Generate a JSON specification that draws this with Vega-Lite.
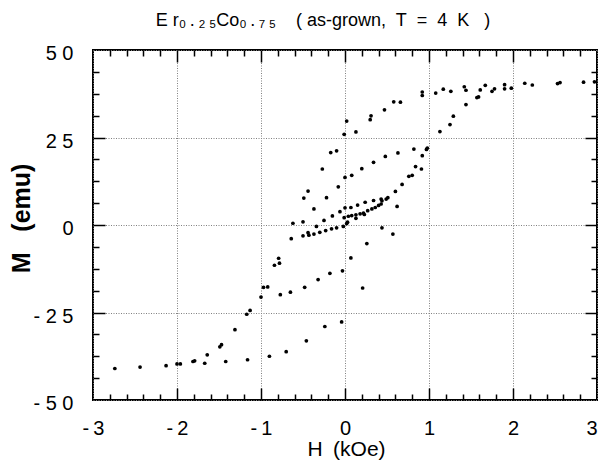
{
  "$schema": "https://vega.github.io/schema/vega-lite/v6.json",
  "width": 504,
  "height": 350,
  "autosize": {"type": "none"},
  "padding": {"left": 93, "top": 50, "right": 4, "bottom": 76},
  "config": {
    "view": {"stroke": "black", "strokeWidth": 2},
    "font": "Liberation Sans",
    "axis": {"labelFont": "Liberation Sans", "titleFont": "Liberation Sans", "labelColor": "black", "titleColor": "black", "tickColor": "black", "domain": false}
  },
  "title": {
    "text": "E r₀\u2009.\u2009₂\u2009₅Co₀\u2009.\u2009₇\u2009₅\u00a0\u00a0\u00a0 ( as-grown,\u00a0 T\u00a0 =\u00a0 4\u00a0 K\u00a0\u00a0 )",
    "fontSize": 18,
    "font": "Liberation Sans",
    "fontWeight": "normal",
    "color": "black",
    "anchor": "middle",
    "dx": -22,
    "baseline": "alphabetic",
    "offset": 0
  },
  "data": {
    "values": [
      {"H": 2.97, "M": 40.9}, {"H": 2.84, "M": 40.8}, {"H": 2.56, "M": 40.7}, {"H": 2.53, "M": 40.4},
      {"H": 2.23, "M": 40.0}, {"H": 2.14, "M": 40.5}, {"H": 1.98, "M": 39.1}, {"H": 1.90, "M": 40.1},
      {"H": 1.90, "M": 38.9}, {"H": 1.78, "M": 38.9}, {"H": 1.75, "M": 38.2}, {"H": 1.67, "M": 39.9},
      {"H": 1.61, "M": 38.6}, {"H": 1.59, "M": 36.6}, {"H": 1.57, "M": 36.4}, {"H": 1.44, "M": 38.5},
      {"H": 1.42, "M": 39.5}, {"H": 1.44, "M": 34.4}, {"H": 1.29, "M": 31.1}, {"H": 1.25, "M": 28.7},
      {"H": 1.13, "M": 26.7}, {"H": 1.26, "M": 38.2}, {"H": 1.17, "M": 38.8}, {"H": 1.08, "M": 37.7},
      {"H": 0.92, "M": 38.0}, {"H": 0.92, "M": 37.0}, {"H": 0.66, "M": 35.1}, {"H": 0.58, "M": 35.2},
      {"H": 0.47, "M": 32.9}, {"H": 0.31, "M": 31.2}, {"H": 0.30, "M": 30.1}, {"H": 0.13, "M": 26.6},
      {"H": 0.02, "M": 29.7}, {"H": -0.01, "M": 25.9},
      {"H": -0.10, "M": 21.2}, {"H": -0.17, "M": 20.7}, {"H": -0.27, "M": 16.0}, {"H": 0.00, "M": 13.6},
      {"H": 0.08, "M": 14.2}, {"H": 0.20, "M": 16.1}, {"H": 0.34, "M": 17.9}, {"H": 0.48, "M": 19.6},
      {"H": 0.63, "M": 20.6}, {"H": 0.82, "M": 21.7}, {"H": 0.97, "M": 21.6}, {"H": 0.98, "M": 22.0},
      {"H": 0.92, "M": 19.8}, {"H": 0.84, "M": 16.7}, {"H": 0.91, "M": 16.0}, {"H": 0.76, "M": 13.9},
      {"H": 0.80, "M": 14.2}, {"H": 0.68, "M": 11.6}, {"H": 0.60, "M": 9.6}, {"H": 0.62, "M": 5.3},
      {"H": -0.44, "M": 9.7}, {"H": -0.49, "M": 7.7}, {"H": -0.08, "M": 10.9}, {"H": -0.22, "M": 7.8},
      {"H": -0.37, "M": 4.6}, {"H": -0.15, "M": 2.6}, {"H": -0.25, "M": 1.3}, {"H": -0.06, "M": 3.8},
      {"H": 0.00, "M": 4.9}, {"H": 0.07, "M": 5.0}, {"H": 0.15, "M": 5.7}, {"H": 0.24, "M": 6.5},
      {"H": 0.34, "M": 7.0}, {"H": 0.43, "M": 7.4}, {"H": 0.44, "M": 6.9}, {"H": 0.49, "M": 7.4},
      {"H": 0.51, "M": 7.8},
      {"H": -0.62, "M": 0.5}, {"H": -0.50, "M": 0.9}, {"H": -0.34, "M": -0.4}, {"H": -0.01, "M": 2.1},
      {"H": 0.04, "M": 2.5}, {"H": 0.08, "M": 2.7}, {"H": 0.13, "M": 2.9}, {"H": 0.13, "M": 1.9},
      {"H": 0.18, "M": 3.2}, {"H": 0.22, "M": 3.4}, {"H": 0.23, "M": 3.0}, {"H": 0.27, "M": 4.1},
      {"H": 0.32, "M": 4.6}, {"H": 0.36, "M": 5.0}, {"H": 0.40, "M": 5.6}, {"H": 0.43, "M": 6.0},
      {"H": 0.02, "M": 0.4}, {"H": 0.03, "M": 0.8}, {"H": -0.02, "M": -0.4},
      {"H": -0.64, "M": -3.9}, {"H": -0.50, "M": -3.1}, {"H": -0.44, "M": -2.2}, {"H": -0.43, "M": -2.9},
      {"H": -0.37, "M": -2.6}, {"H": -0.30, "M": -2.1}, {"H": -0.23, "M": -1.6}, {"H": -0.16, "M": -1.1},
      {"H": -0.10, "M": -0.8},
      {"H": 0.44, "M": -0.8}, {"H": 0.57, "M": -2.6}, {"H": 0.26, "M": -5.3}, {"H": 0.07, "M": -9.4},
      {"H": -0.03, "M": -13.1}, {"H": -0.18, "M": -13.8}, {"H": -0.32, "M": -15.6}, {"H": 0.21, "M": -18.0},
      {"H": -0.04, "M": -27.7},
      {"H": -2.74, "M": -41.0}, {"H": -2.44, "M": -40.6}, {"H": -2.13, "M": -40.2}, {"H": -2.00, "M": -39.7},
      {"H": -1.96, "M": -39.7}, {"H": -1.81, "M": -39.0}, {"H": -1.79, "M": -38.8}, {"H": -1.67, "M": -39.5},
      {"H": -1.64, "M": -37.1}, {"H": -1.49, "M": -34.8}, {"H": -1.47, "M": -34.2}, {"H": -1.42, "M": -39.0},
      {"H": -1.31, "M": -29.9}, {"H": -1.17, "M": -25.5}, {"H": -1.13, "M": -24.4}, {"H": -1.16, "M": -38.5},
      {"H": -1.00, "M": -20.6}, {"H": -0.97, "M": -17.8}, {"H": -0.92, "M": -17.7}, {"H": -0.90, "M": -37.5},
      {"H": -0.84, "M": -11.5}, {"H": -0.79, "M": -9.5}, {"H": -0.78, "M": -10.9}, {"H": -0.77, "M": -19.9},
      {"H": -0.70, "M": -36.2}, {"H": -0.65, "M": -19.2}, {"H": -0.48, "M": -17.8}, {"H": -0.46, "M": -33.1},
      {"H": -0.24, "M": -29.0}
    ]
  },
  "layer": [
    {
      "mark": {"type": "circle", "size": 14, "color": "black", "opacity": 1},
      "encoding": {
        "x": {
          "field": "H", "type": "quantitative",
          "scale": {"domain": [-3, 3], "nice": false, "zero": false},
          "axis": {
            "orient": "bottom", "values": [-3, -2, -1, 0, 1, 2, 3], "ticks": false, "domain": false,
            "grid": true, "gridColor": "#808080", "gridDash": [1, 1.5], "gridWidth": 1,
            "labelExpr": "datum.value < 0 ? '-\u2009' + abs(datum.value) : '' + datum.value",
            "labelAlign": {"condition": {"test": "datum.value == 3", "value": "right"}, "value": "center"},
            "labelFontSize": 20, "labelPadding": 18, "labelFlush": false, "labelOverlap": false,
            "title": "H\u2002(kOe)", "titleFontSize": 21, "titleFontWeight": "normal",
            "titleX": 253, "titleY": 55, "titleBaseline": "alphabetic", "titleAlign": "center"
          }
        },
        "y": {
          "field": "M", "type": "quantitative",
          "scale": {"domain": [-50, 50], "nice": false, "zero": false},
          "axis": {
            "orient": "left", "values": [-50, -25, 0, 25, 50], "ticks": false, "domain": false,
            "grid": true, "gridColor": "#808080", "gridDash": [1, 1.5], "gridWidth": 1,
            "labelExpr": "datum.value == 50 ? '5 0' : datum.value == 25 ? '2 5' : datum.value == 0 ? '0' : datum.value == -25 ? '- 2 5' : '- 5 0'",
            "labelFontSize": 20, "labelPadding": 20, "labelOffset": 3.5, "labelBaseline": "middle", "labelAlign": "right",
            "labelFlush": false, "labelOverlap": false,
            "title": "M\u00a0\u00a0\u00a0(emu)", "titleFontSize": 25, "titleFontWeight": "bold",
            "titleX": -72, "titleY": 168, "titleAngle": 270, "titleBaseline": "middle", "titleAlign": "center"
          }
        }
      }
    },
    {
      "mark": {"type": "circle", "opacity": 0},
      "encoding": {
        "x": {"field": "H", "type": "quantitative",
          "axis": {"orient": "bottom", "values": [-2, -1, 0, 1, 2], "labels": false, "domain": false, "grid": false, "title": null, "ticks": true, "tickSize": -12, "tickWidth": 1.5}},
        "y": {"field": "M", "type": "quantitative",
          "axis": {"orient": "left", "values": [-25, 0, 25], "labels": false, "domain": false, "grid": false, "title": null, "ticks": true, "tickSize": -12, "tickWidth": 1.5}}
      }
    },
    {
      "mark": {"type": "circle", "opacity": 0},
      "encoding": {
        "x": {"field": "H", "type": "quantitative",
          "axis": {"orient": "bottom", "values": [-2.8, -2.6, -2.4, -2.2, -1.8, -1.6, -1.4, -1.2, -0.8, -0.6, -0.4, -0.2, 0.2, 0.4, 0.6, 0.8, 1.2, 1.4, 1.6, 1.8, 2.2, 2.4, 2.6, 2.8], "labels": false, "domain": false, "grid": false, "title": null, "ticks": true, "tickSize": -6, "tickWidth": 1.5}},
        "y": {"field": "M", "type": "quantitative",
          "axis": {"orient": "left", "values": [-43.75, -37.5, -31.25, -18.75, -12.5, -6.25, 6.25, 12.5, 18.75, 31.25, 37.5, 43.75], "labels": false, "domain": false, "grid": false, "title": null, "ticks": true, "tickSize": -6, "tickWidth": 1.5}}
      }
    },
    {
      "mark": {"type": "circle", "opacity": 0},
      "encoding": {
        "x": {"field": "H", "type": "quantitative",
          "axis": {"orient": "top", "values": [-2, -1, 0, 1, 2], "labels": false, "domain": false, "grid": false, "title": null, "ticks": true, "tickSize": -12, "tickWidth": 1.5}},
        "y": {"field": "M", "type": "quantitative",
          "axis": {"orient": "right", "values": [-25, 0, 25], "labels": false, "domain": false, "grid": false, "title": null, "ticks": true, "tickSize": -12, "tickWidth": 1.5}}
      }
    },
    {
      "mark": {"type": "circle", "opacity": 0},
      "encoding": {
        "x": {"field": "H", "type": "quantitative",
          "axis": {"orient": "top", "values": [-2.8, -2.6, -2.4, -2.2, -1.8, -1.6, -1.4, -1.2, -0.8, -0.6, -0.4, -0.2, 0.2, 0.4, 0.6, 0.8, 1.2, 1.4, 1.6, 1.8, 2.2, 2.4, 2.6, 2.8], "labels": false, "domain": false, "grid": false, "title": null, "ticks": true, "tickSize": -6, "tickWidth": 1.5}},
        "y": {"field": "M", "type": "quantitative",
          "axis": {"orient": "right", "values": [-43.75, -37.5, -31.25, -18.75, -12.5, -6.25, 6.25, 12.5, 18.75, 31.25, 37.5, 43.75], "labels": false, "domain": false, "grid": false, "title": null, "ticks": true, "tickSize": -6, "tickWidth": 1.5}}
      }
    }
  ],
  "resolve": {"axis": {"x": "independent", "y": "independent"}}
}
